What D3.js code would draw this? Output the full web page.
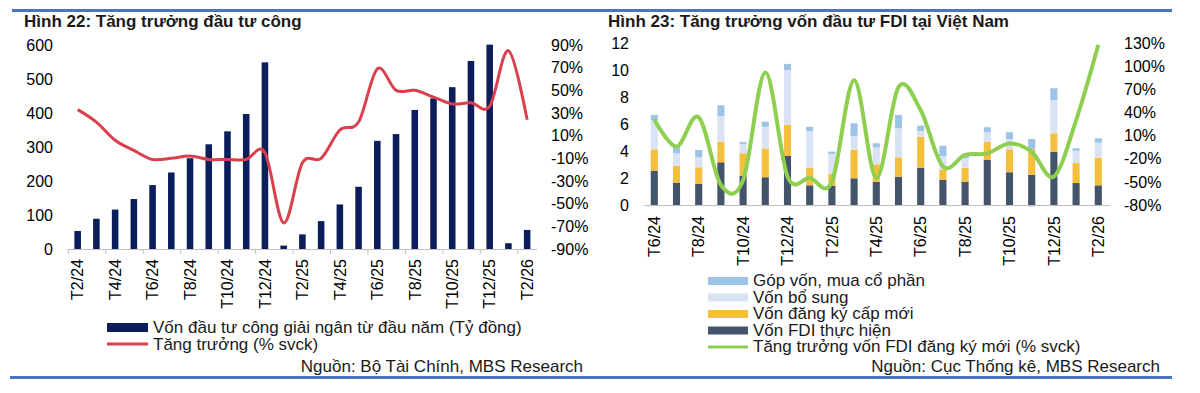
<!DOCTYPE html>
<html lang="vi">
<head>
  <meta charset="UTF-8">
  <title>Đầu tư công &amp; FDI</title>
  <script src="https://cdn.jsdelivr.net/npm/d3@7"></script>
  <style>
    body { margin: 0; background: #fff; }
    svg { font-family: "Liberation Sans", Arial, sans-serif; }
    .tick text { fill: #000; }
  </style>
</head>
<body>
<svg width="1200" height="393"></svg>
<script>
  // ---- Hình 22 data ----
  const monthsPub = ["T2/24", "T3/24", "T4/24", "T5/24", "T6/24", "T7/24", "T8/24", "T9/24", "T10/24", "T11/24", "T12/24",
    "T1/25", "T2/25", "T3/25", "T4/25", "T5/25", "T6/25", "T7/25", "T8/25", "T9/25", "T10/25", "T11/25", "T12/25",
    "T1/26", "T2/26"]
  const pubDisbursed = [53, 89, 116, 147, 188, 225, 267, 308, 346, 397, 549,
    10, 43, 82, 131, 183, 318, 338, 409, 443, 476, 553, 601, 17, 56]
  const pubGrowth = [33, 22, 6, -3, -11, -10, -8, -11, -11, -11, -5,
    -67, -14, -10, 15, 22, 69, 50, 50, 44, 38, 39, 36, 85, 24]
  const pubLeftTicks = [0, 100, 200, 300, 400, 500, 600]
  const pubRightTicks = [90, 70, 50, 30, 10, -10, -30, -50, -70, -90]

  // ---- Hình 23 data (tỷ USD) ----
  const monthsFdi = ["T6/24", "T7/24", "T8/24", "T9/24", "T10/24", "T11/24", "T12/24",
    "T1/25", "T2/25", "T3/25", "T4/25", "T5/25", "T6/25", "T7/25", "T8/25", "T9/25", "T10/25", "T11/25", "T12/25",
    "T1/26", "T2/26"]
  const fdiRealized = [2.55, 1.66, 1.56, 3.17, 2.18, 2.06, 3.64, 1.46, 1.41, 1.98, 1.73, 2.10, 2.77, 1.86, 1.73, 3.34, 2.43, 2.25, 3.96, 1.63, 1.46]
  const fdiNew = [1.58, 1.26, 1.24, 1.53, 1.66, 2.14, 2.32, 1.31, 0.89, 2.12, 1.29, 1.44, 2.30, 0.74, 1.04, 1.36, 1.70, 1.88, 1.36, 1.49, 2.05]
  const fdiAdded = [2.17, 0.92, 0.74, 1.90, 0.69, 1.61, 4.06, 2.72, 1.49, 1.02, 1.26, 2.15, 0.42, 1.04, 0.70, 0.70, 0.77, -0.15, 2.48, 0.91, 1.12]
  const fdiShares = [0.38, 0.61, 0.54, 0.80, 0.15, 0.37, 0.45, 0.32, 0.17, 0.94, 0.30, 0.99, 0.40, 0.76, 0.32, 0.37, 0.50, 0.77, 0.86, 0.18, 0.32]
  const fdiNewGrowth = [31, -4, 34, -54, -48, 92, -43, -45, -50, 82, -45, 73, 43, -30, -15, -13, 0, -11, -43, 30, 128]
  const fdiLeftTicks = [0, 2, 4, 6, 8, 10, 12]
  const fdiRightTicks = [130, 100, 70, 40, 10, -20, -50, -80]

  const svg = d3.select("svg")
  const ruleColor = "#4a76bf", axisColor = "#bfbfbf"

  // frame rules
  svg.append("line").attr("x1", 12).attr("x2", 1172).attr("y1", 10.5).attr("y2", 10.5)
      .attr("stroke", ruleColor).attr("stroke-width", 3)
  svg.append("line").attr("x1", 10).attr("x2", 1172).attr("y1", 377.5).attr("y2", 377.5)
      .attr("stroke", ruleColor).attr("stroke-width", 3)

  const title = (x, text) => svg.append("text").attr("x", x).attr("y", 27)
      .attr("font-size", 17).attr("font-weight", "bold").attr("fill", "#1a1a1a").text(text)
  const plain = (x, y, text, anchor) => svg.append("text").attr("x", x).attr("y", y)
      .attr("font-size", 17).attr("fill", "#1a1a1a").attr("text-anchor", anchor || "start").text(text)

  const styleAxis = g => g.attr("font-size", 16).attr("font-family", null)
      .call(g => g.select(".domain").remove())

  const rotatedXAxis = (g, x, labels, offset) => g
      .call(d3.axisBottom(x).tickValues(labels).tickSize(0).tickSizeOuter(0))
      .attr("font-size", 16).attr("font-family", null)
      .call(g => g.select(".domain").attr("stroke", axisColor))
      .call(g => g.selectAll(".tick text")
          .attr("transform", "rotate(-90)")
          .attr("x", -offset).attr("y", 0).attr("dy", "0.36em")
          .attr("text-anchor", "end"))

  // ================= Hình 22 =================
  title(24, "Hình 22: Tăng trưởng đầu tư công")

  const x1 = d3.scaleBand().domain(monthsPub).range([68.3, 536.5])
  const y1 = d3.scaleLinear().domain([0, 600]).range([249, 45])
  const y1r = d3.scaleLinear().domain([-90, 90]).range([249, 45])

  svg.append("g").attr("transform", "translate(53,0)")
      .call(d3.axisLeft(y1).tickValues(pubLeftTicks).tickSize(0).tickPadding(0))
      .call(styleAxis)
  svg.append("g").attr("transform", "translate(551,0)")
      .call(d3.axisRight(y1r).tickValues(pubRightTicks).tickFormat(d => d + "%").tickSize(0).tickPadding(0))
      .call(styleAxis)

  svg.append("g").selectAll("rect").data(pubDisbursed).join("rect")
      .attr("x", (d, i) => x1(monthsPub[i]) + x1.bandwidth() * 0.325)
      .attr("width", x1.bandwidth() * 0.35)
      .attr("y", d => y1(d))
      .attr("height", d => y1(0) - y1(d))
      .attr("fill", "#0c1d5b")

  svg.append("g").attr("transform", `translate(0,${y1(0)})`)
      .call(rotatedXAxis, x1, monthsPub.filter((d, i) => i % 2 === 0), 10)
  svg.append("g").selectAll("line").data(monthsPub.filter((d, i) => i % 2 === 0)).join("line")
      .attr("x1", d => x1(d)).attr("x2", d => x1(d))
      .attr("y1", y1(0)).attr("y2", y1(0) + 5)
      .attr("stroke", axisColor)

  svg.append("path").datum(pubGrowth)
      .attr("fill", "none").attr("stroke", "#d9404e").attr("stroke-width", 3)
      .attr("d", d3.line().curve(d3.curveCardinal.tension(0))
          .x((d, i) => x1(monthsPub[i]) + x1.bandwidth() / 2)
          .y(d => y1r(d)))

  // legend
  svg.append("rect").attr("x", 107).attr("y", 323).attr("width", 41).attr("height", 9).attr("fill", "#0c1d5b")
  plain(153, 333, "Vốn đầu tư công giải ngân từ đầu năm (Tỷ đồng)")
  svg.append("line").attr("x1", 107).attr("x2", 148).attr("y1", 344).attr("y2", 344)
      .attr("stroke", "#d9404e").attr("stroke-width", 3)
  plain(153, 350, "Tăng trưởng (% svck)")
  plain(583, 371.5, "Nguồn: Bộ Tài Chính, MBS Research", "end")

  // ================= Hình 23 =================
  title(608, "Hình 23: Tăng trưởng vốn đầu tư FDI tại Việt Nam")

  const x2 = d3.scaleBand().domain(monthsFdi).range([643.2, 1109.4])
  const y2 = d3.scaleLinear().domain([0, 12]).range([205, 43.3])
  const y2r = d3.scaleLinear().domain([-80, 130]).range([205, 43.3])

  svg.append("g").attr("transform", "translate(629,0)")
      .call(d3.axisLeft(y2).tickValues(fdiLeftTicks).tickSize(0).tickPadding(0))
      .call(styleAxis)
  svg.append("g").attr("transform", "translate(1124,0)")
      .call(d3.axisRight(y2r).tickValues(fdiRightTicks).tickFormat(d => d + "%").tickSize(0).tickPadding(0))
      .call(styleAxis)

  const keys = ["realized", "newReg", "added", "shares"]
  const colors = {realized: "#44546a", newReg: "#f5bf3e", added: "#dae3f3", shares: "#9dc3e6"}
  const table = monthsFdi.map((m, i) => ({
    month: m, realized: fdiRealized[i], newReg: fdiNew[i], added: fdiAdded[i], shares: fdiShares[i]
  }))
  const series = d3.stack().keys(keys).offset(d3.stackOffsetDiverging)(table)

  svg.append("g").selectAll("g").data(series).join("g")
      .attr("fill", s => colors[s.key])
      .selectAll("rect").data(s => s).join("rect")
      .attr("x", d => x2(d.data.month) + x2.bandwidth() * 0.34)
      .attr("width", x2.bandwidth() * 0.32)
      .attr("y", d => y2(d[1]))
      .attr("height", d => y2(d[0]) - y2(d[1]))

  svg.append("g").attr("transform", `translate(0,${y2(0)})`)
      .call(rotatedXAxis, x2, monthsFdi.filter((d, i) => i % 2 === 0), 11)

  svg.append("path").datum(fdiNewGrowth)
      .attr("fill", "none").attr("stroke", "#8fcf4f").attr("stroke-width", 4)
      .attr("d", d3.line().curve(d3.curveCardinal.tension(0))
          .x((d, i) => x2(monthsFdi[i]) + x2.bandwidth() / 2)
          .y(d => y2r(d)))

  // legend
  const fdiLegend = [
    ["Góp vốn, mua cổ phần", colors.shares],
    ["Vốn bổ sung", colors.added],
    ["Vốn đăng ký cấp mới", colors.newReg],
    ["Vốn FDI thực hiện", colors.realized]
  ]
  fdiLegend.forEach(([label, c], i) => {
    const cy = 281 + i * 16.5
    svg.append("rect").attr("x", 708).attr("y", cy - 4).attr("width", 40).attr("height", 8).attr("fill", c)
    plain(753, cy + 5, label)
  })
  svg.append("line").attr("x1", 708).attr("x2", 748).attr("y1", 347).attr("y2", 347)
      .attr("stroke", "#8fcf4f").attr("stroke-width", 3)
  plain(753, 352, "Tăng trưởng vốn FDI đăng ký mới (% svck)")
  plain(1160, 371.5, "Nguồn: Cục Thống kê, MBS Research", "end")
</script>
</body>
</html>
